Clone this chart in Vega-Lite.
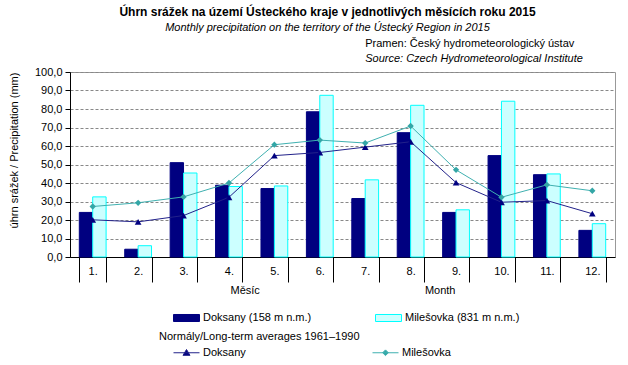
{
  "$schema": "https://vega.github.io/schema/vega-lite/v6.json",
  "width": 545,
  "height": 185,
  "autosize": {"type": "none"},
  "padding": {"left": 70, "top": 72, "right": 13, "bottom": 108},
  "background": "white",
  "config": {
    "font": "Liberation Sans",
    "view": {"stroke": "#999999", "strokeWidth": 1},
    "axis": {"labelColor": "black", "titleColor": "black", "labelFontSize": 11, "titleFontSize": 11, "titleFontWeight": "normal", "domainColor": "black", "tickColor": "black"},
    "axisY": {
      "tickSize": 5,
      "labelPadding": 3,
      "titlePadding": 15,
      "titleY": 78,
      "grid": true,
      "gridColor": "#888888",
      "gridDash": [3, 2],
      "gridWidth": 1
    },
    "legend": {"labelFontSize": 11, "labelColor": "black", "titleFontSize": 11, "titleFontWeight": "normal", "titleColor": "black"}
  },
  "title": {
    "text": "Úhrn srážek na území Ústeckého kraje v jednotlivých měsících roku 2015",
    "subtitle": "Monthly precipitation on the territory of the Ústecký Region in 2015",
    "fontSize": 12,
    "fontWeight": "bold",
    "color": "black",
    "subtitleFontSize": 11,
    "subtitleFontStyle": "italic",
    "subtitleColor": "black",
    "subtitlePadding": 3,
    "anchor": "middle",
    "frame": "group",
    "dx": -15,
    "offset": 4
  },
  "datasets": {
    "bars": [
      {"month": "1.", "station": "Doksany (158 m n.m.)", "value": 24.1},
      {"month": "1.", "station": "Milešovka (831 m n.m.)", "value": 32.5},
      {"month": "2.", "station": "Doksany (158 m n.m.)", "value": 4.2},
      {"month": "2.", "station": "Milešovka (831 m n.m.)", "value": 6.1},
      {"month": "3.", "station": "Doksany (158 m n.m.)", "value": 51.0},
      {"month": "3.", "station": "Milešovka (831 m n.m.)", "value": 45.4},
      {"month": "4.", "station": "Doksany (158 m n.m.)", "value": 38.8},
      {"month": "4.", "station": "Milešovka (831 m n.m.)", "value": 38.1},
      {"month": "5.", "station": "Doksany (158 m n.m.)", "value": 37.0},
      {"month": "5.", "station": "Milešovka (831 m n.m.)", "value": 38.4},
      {"month": "6.", "station": "Doksany (158 m n.m.)", "value": 78.5},
      {"month": "6.", "station": "Milešovka (831 m n.m.)", "value": 87.4},
      {"month": "7.", "station": "Doksany (158 m n.m.)", "value": 31.6},
      {"month": "7.", "station": "Milešovka (831 m n.m.)", "value": 41.7},
      {"month": "8.", "station": "Doksany (158 m n.m.)", "value": 67.2},
      {"month": "8.", "station": "Milešovka (831 m n.m.)", "value": 82.0},
      {"month": "9.", "station": "Doksany (158 m n.m.)", "value": 24.1},
      {"month": "9.", "station": "Milešovka (831 m n.m.)", "value": 25.5},
      {"month": "10.", "station": "Doksany (158 m n.m.)", "value": 54.8},
      {"month": "10.", "station": "Milešovka (831 m n.m.)", "value": 84.2},
      {"month": "11.", "station": "Doksany (158 m n.m.)", "value": 44.5},
      {"month": "11.", "station": "Milešovka (831 m n.m.)", "value": 44.9},
      {"month": "12.", "station": "Doksany (158 m n.m.)", "value": 14.4},
      {"month": "12.", "station": "Milešovka (831 m n.m.)", "value": 18.0}
    ],
    "normals": [
      {"month": "1.", "norm": "Doksany", "value": 20.1},
      {"month": "2.", "norm": "Doksany", "value": 19.0},
      {"month": "3.", "norm": "Doksany", "value": 22.4},
      {"month": "4.", "norm": "Doksany", "value": 32.3},
      {"month": "5.", "norm": "Doksany", "value": 54.8},
      {"month": "6.", "norm": "Doksany", "value": 56.5},
      {"month": "7.", "norm": "Doksany", "value": 59.4},
      {"month": "8.", "norm": "Doksany", "value": 62.3},
      {"month": "9.", "norm": "Doksany", "value": 40.2},
      {"month": "10.", "norm": "Doksany", "value": 29.6},
      {"month": "11.", "norm": "Doksany", "value": 30.5},
      {"month": "12.", "norm": "Doksany", "value": 23.4},
      {"month": "1.", "norm": "Milešovka", "value": 27.3},
      {"month": "2.", "norm": "Milešovka", "value": 29.3},
      {"month": "3.", "norm": "Milešovka", "value": 32.5},
      {"month": "4.", "norm": "Milešovka", "value": 40.0},
      {"month": "5.", "norm": "Milešovka", "value": 60.7},
      {"month": "6.", "norm": "Milešovka", "value": 63.2},
      {"month": "7.", "norm": "Milešovka", "value": 61.6},
      {"month": "8.", "norm": "Milešovka", "value": 70.8},
      {"month": "9.", "norm": "Milešovka", "value": 47.1},
      {"month": "10.", "norm": "Milešovka", "value": 32.3},
      {"month": "11.", "norm": "Milešovka", "value": 39.0},
      {"month": "12.", "norm": "Milešovka", "value": 35.8}
    ],
    "notes": [
      {"note": "Pramen: Český hydrometeorologický ústav", "month": "7.", "kind": "cz"},
      {"note": "Source: Czech Hydrometeorological Institute", "month": "7.", "kind": "en"}
    ]
  },
  "layer": [
    {
      "data": {"name": "bars"},
      "mark": {"type": "bar", "strokeWidth": 1},
      "encoding": {
        "x": {
          "field": "month",
          "type": "nominal",
          "sort": ["1.", "2.", "3.", "4.", "5.", "6.", "7.", "8.", "9.", "10.", "11.", "12."],
          "scale": {"paddingInner": 0.41, "paddingOuter": 0.205},
          "axis": {
            "title": "Měsíc\u00a0\u00a0\u00a0\u00a0\u00a0\u00a0\u00a0\u00a0\u00a0\u00a0\u00a0\u00a0\u00a0\u00a0\u00a0\u00a0\u00a0\u00a0\u00a0\u00a0\u00a0\u00a0\u00a0\u00a0\u00a0\u00a0\u00a0\u00a0\u00a0\u00a0\u00a0\u00a0\u00a0\u00a0\u00a0\u00a0\u00a0\u00a0\u00a0\u00a0\u00a0\u00a0\u00a0\u00a0\u00a0\u00a0\u00a0\u00a0\u00a0\u00a0\u00a0\u00a0\u00a0\u00a0Month",
            "labelAngle": 0,
            "tickBand": "extent",
            "tickSize": 25,
            "labelPadding": -17,
            "titleY": 27,
            "titleBaseline": "top",
            "grid": false,
            "encode": {"ticks": {"update": {"y2": {"signal": "datum.index === 0 || datum.extra ? 40 : 25"}}}}
          }
        },
        "y": {
          "field": "value",
          "type": "quantitative",
          "scale": {"domain": [0, 100], "nice": false},
          "axis": {"title": "úhrn srážek / Precipitation (mm)", "labelExpr": "replace(format(datum.value, '.1f'), '.', ',')", "values": [0, 10, 20, 30, 40, 50, 60, 70, 80, 90, 100]}
        },
        "xOffset": {"field": "station", "type": "nominal", "sort": ["Doksany (158 m n.m.)", "Milešovka (831 m n.m.)"]},
        "fill": {
          "field": "station",
          "type": "nominal",
          "scale": {"domain": ["Doksany (158 m n.m.)", "Milešovka (831 m n.m.)"], "range": ["#000080", "#ccffff"]},
          "legend": {
            "title": null,
            "orient": "none",
            "legendX": 103,
            "legendY": 232,
            "direction": "horizontal",
            "columns": 2,
            "columnPadding": 61,
            "symbolType": "M-1,-0.27H1V0.27H-1Z",
            "symbolSize": 676,
            "symbolStrokeWidth": 1,
            "labelOffset": 3,
            "encode": {"symbols": {"update": {"stroke": {"signal": "datum.value === 'Doksany (158 m n.m.)' ? '#000080' : '#00ffff'"}, "opacity": {"value": 1}}}}
          }
        },
        "stroke": {
          "field": "station",
          "type": "nominal",
          "scale": {"domain": ["Doksany (158 m n.m.)", "Milešovka (831 m n.m.)"], "range": ["#000080", "#00ffff"]},
          "legend": null
        }
      }
    },
    {
      "data": {"name": "normals"},
      "mark": {"type": "line", "strokeWidth": 1},
      "encoding": {
        "x": {"field": "month", "type": "nominal", "sort": ["1.", "2.", "3.", "4.", "5.", "6.", "7.", "8.", "9.", "10.", "11.", "12."]},
        "y": {"field": "value", "type": "quantitative", "scale": {"domain": [0, 100], "nice": false}, "axis": {"title": "úhrn srážek / Precipitation (mm)", "labelExpr": "replace(format(datum.value, '.1f'), '.', ',')", "values": [0, 10, 20, 30, 40, 50, 60, 70, 80, 90, 100]}},
        "stroke": {
          "field": "norm",
          "type": "nominal",
          "scale": {"domain": ["Doksany", "Milešovka"], "range": ["#22228a", "#3fb0b0"]},
          "legend": {
            "title": "Normály/Long-term averages 1961–1990",
            "titleLimit": 400,
            "orient": "none",
            "legendX": 89,
            "legendY": 259,
            "direction": "horizontal",
            "columns": 2,
            "columnPadding": 112,
            "symbolOffset": 14,
            "symbolSize": 676,
            "symbolStrokeWidth": 1,
            "labelOffset": 3,
            "titlePadding": -3,
            "encode": {"symbols": {"update": {
              "shape": {"signal": "datum.value === 'Doksany' ? 'M-1,0H1M-0.27,0.2L0,-0.25L0.27,0.2Z' : 'M-1,0H1M0,-0.22L0.22,0L0,0.22L-0.22,0Z'"},
              "fill": {"signal": "datum.value === 'Doksany' ? '#000080' : '#33a6a6'"},
              "opacity": {"value": 1}
            }}}
          }
        }
      }
    },
    {
      "data": {"name": "normals"},
      "transform": [{"filter": "datum.norm === 'Doksany'"}],
      "mark": {"type": "point", "shape": "triangle-up", "filled": true, "color": "#000080", "size": 45, "opacity": 1},
      "encoding": {
        "x": {"field": "month", "type": "nominal", "sort": ["1.", "2.", "3.", "4.", "5.", "6.", "7.", "8.", "9.", "10.", "11.", "12."]},
        "y": {"field": "value", "type": "quantitative", "scale": {"domain": [0, 100], "nice": false}, "axis": {"title": "úhrn srážek / Precipitation (mm)", "labelExpr": "replace(format(datum.value, '.1f'), '.', ',')", "values": [0, 10, 20, 30, 40, 50, 60, 70, 80, 90, 100]}}
      }
    },
    {
      "data": {"name": "normals"},
      "transform": [{"filter": "datum.norm === 'Milešovka'"}],
      "mark": {"type": "point", "shape": "diamond", "filled": true, "color": "#33a6a6", "size": 40, "opacity": 1},
      "encoding": {
        "x": {"field": "month", "type": "nominal", "sort": ["1.", "2.", "3.", "4.", "5.", "6.", "7.", "8.", "9.", "10.", "11.", "12."]},
        "y": {"field": "value", "type": "quantitative", "scale": {"domain": [0, 100], "nice": false}, "axis": {"title": "úhrn srážek / Precipitation (mm)", "labelExpr": "replace(format(datum.value, '.1f'), '.', ',')", "values": [0, 10, 20, 30, 40, 50, 60, 70, 80, 90, 100]}}
      }
    },
    {
      "data": {"name": "notes"},
      "transform": [{"filter": "datum.kind === 'cz'"}],
      "mark": {"type": "text", "align": "left", "baseline": "middle", "fontSize": 11, "color": "black", "clip": false},
      "encoding": {
        "x": {"field": "month", "type": "nominal", "sort": ["1.", "2.", "3.", "4.", "5.", "6.", "7.", "8.", "9.", "10.", "11.", "12."]},
        "y": {"datum": 115.1, "type": "quantitative", "scale": {"domain": [0, 100], "nice": false}, "axis": {"title": "úhrn srážek / Precipitation (mm)", "labelExpr": "replace(format(datum.value, '.1f'), '.', ',')", "values": [0, 10, 20, 30, 40, 50, 60, 70, 80, 90, 100]}},
        "text": {"field": "note"}
      }
    },
    {
      "data": {"name": "notes"},
      "transform": [{"filter": "datum.kind === 'en'"}],
      "mark": {"type": "text", "align": "left", "baseline": "middle", "fontSize": 11, "fontStyle": "italic", "color": "black", "clip": false},
      "encoding": {
        "x": {"field": "month", "type": "nominal", "sort": ["1.", "2.", "3.", "4.", "5.", "6.", "7.", "8.", "9.", "10.", "11.", "12."]},
        "y": {"datum": 107.0, "type": "quantitative", "scale": {"domain": [0, 100], "nice": false}, "axis": {"title": "úhrn srážek / Precipitation (mm)", "labelExpr": "replace(format(datum.value, '.1f'), '.', ',')", "values": [0, 10, 20, 30, 40, 50, 60, 70, 80, 90, 100]}},
        "text": {"field": "note"}
      }
    }
  ],
  "resolve": {"scale": {"stroke": "independent"}, "legend": {"stroke": "independent"}}
}
